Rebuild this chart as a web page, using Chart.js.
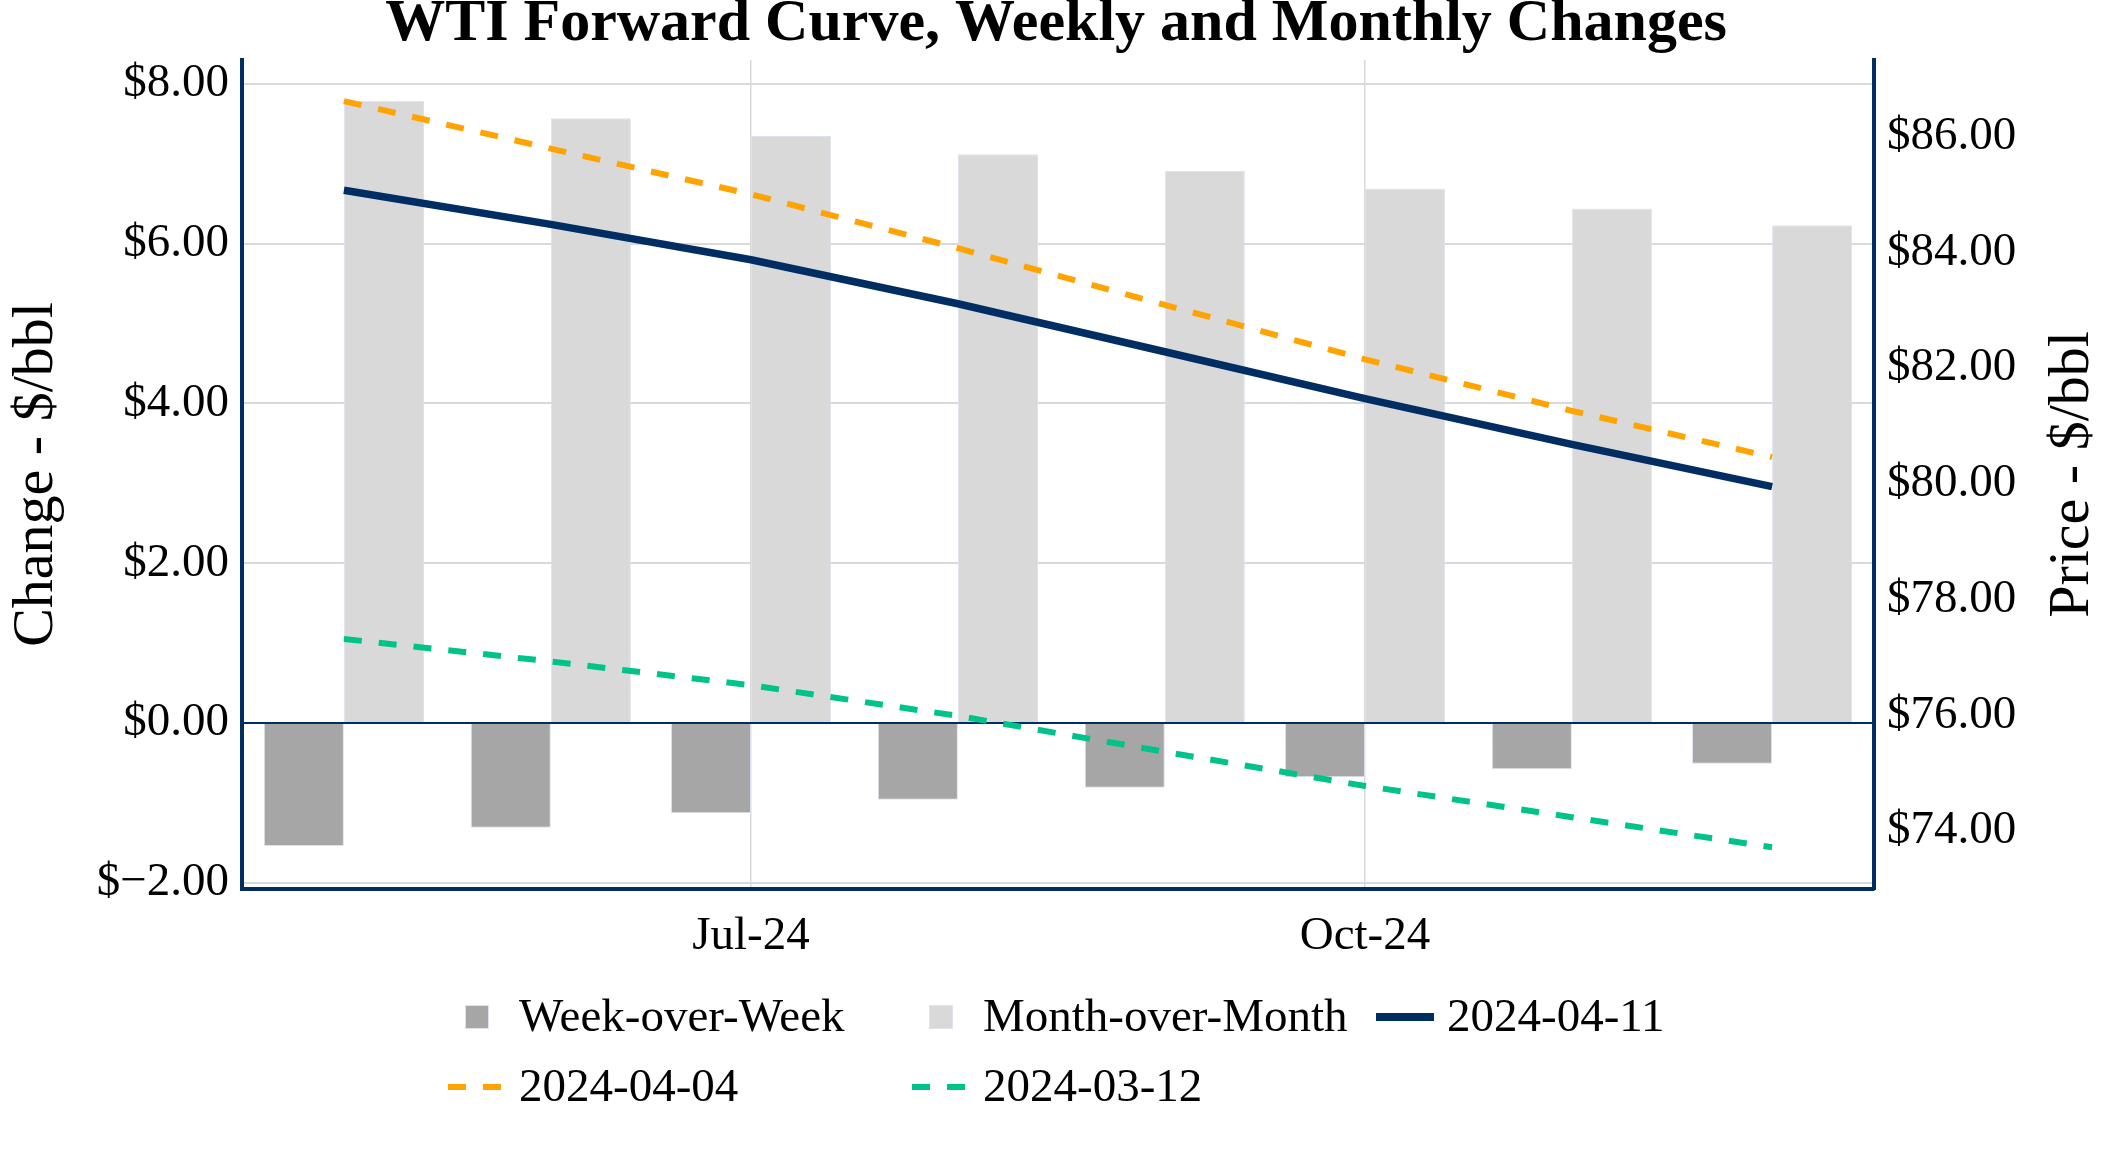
<!DOCTYPE html>
<html>
<head>
<meta charset="utf-8">
<title>WTI Forward Curve, Weekly and Monthly Changes</title>
<script src="https://cdn.jsdelivr.net/npm/chart.js@4.4.1/dist/chart.umd.min.js"></script>
<style>
    html, body { margin: 0; padding: 0; background: #fff; overflow: hidden; }
    canvas { display: block; }
</style>
</head>
<body>
<canvas id="wtiChart" width="2112" height="1152"></canvas>
<script>
const contractMonths = ['2024-05-01', '2024-06-01', '2024-07-01', '2024-08-01', '2024-09-01', '2024-10-01', '2024-11-01', '2024-12-01'];
const weekOverWeek = [-1.54, -1.31, -1.13, -0.96, -0.81, -0.68, -0.58, -0.51];
const monthOverMonth = [7.79, 7.57, 7.35, 7.12, 6.91, 6.69, 6.44, 6.23];
const curve20240411 = [85.07, 84.48, 83.87, 83.11, 82.28, 81.47, 80.68, 79.95];
const curve20240404 = [86.61, 85.79, 85.00, 84.07, 83.09, 82.15, 81.26, 80.46];
const curve20240312 = [77.32, 76.93, 76.52, 75.99, 75.37, 74.78, 74.24, 73.72];
const xTickDates = ['2024-07-01', '2024-10-01'];
const xTickLabels = ['Jul-24', 'Oct-24'];
const changeTicks = [-2, 0, 2, 4, 6, 8];
const priceTicks = [74, 76, 78, 80, 82, 84, 86];

const NAVY = '#002D62';
const SERIF = '"Liberation Serif", "Times New Roman", serif';

function toDay(s) {
    return Date.parse(s) / 86400000;
}

function money(v) {
    const s = Math.abs(v).toFixed(2);
    return v < 0 ? '$\u2212' + s : '$' + s;
}

function points(values) {
    return contractMonths.map((m, i) => ({ x: toDay(m), y: values[i] }));
}

const firstDay = toDay(contractMonths[0]);
const lastDay = toDay(contractMonths[contractMonths.length - 1]);

// legend laid out in columns, like the original
const gridLegend = {
    id: 'gridLegend',
    afterDraw(chart) {
        const ctx = chart.ctx;
        const rows = [1017, 1087];
        ctx.save();
        ctx.font = '47px ' + SERIF;
        ctx.textBaseline = 'middle';
        chart.data.datasets.forEach((ds, i) => {
            const x = 448 + (i % 3) * 464;
            const y = rows[Math.floor(i / 3)];
            if (ds.type === 'bar') {
                ctx.fillStyle = ds.backgroundColor;
                ctx.fillRect(x + 17, y - 12, 24, 24);
                ctx.strokeStyle = ds.borderColor;
                ctx.lineWidth = 1;
                ctx.strokeRect(x + 17.5, y - 11.5, 23, 23);
            } else {
                ctx.strokeStyle = ds.borderColor;
                ctx.lineWidth = ds.borderDash ? 6 : 8;
                ctx.setLineDash(ds.borderDash || []);
                ctx.beginPath();
                ctx.moveTo(x, y);
                ctx.lineTo(x + 58, y);
                ctx.stroke();
                ctx.setLineDash([]);
            }
            ctx.fillStyle = '#000';
            ctx.fillText(ds.label, x + 71, y + 2);
        });
        ctx.restore();
    }
};

// right axis title reads bottom to top
const rightTitle = {
    id: 'rightTitle',
    afterDraw(chart) {
        const ctx = chart.ctx;
        const area = chart.chartArea;
        ctx.save();
        ctx.translate(2073, (area.top + area.bottom) / 2);
        ctx.rotate(-Math.PI / 2);
        ctx.font = '58px ' + SERIF;
        ctx.fillStyle = '#000';
        ctx.textAlign = 'center';
        ctx.textBaseline = 'middle';
        ctx.fillText('Price - $/bbl', 0, 0);
        ctx.restore();
    }
};

const ctx = document.getElementById('wtiChart').getContext('2d');

new Chart(ctx, {
    type: 'bar',
    data: {
        datasets: [
            {
                type: 'bar',
                label: 'Week-over-Week',
                data: points(weekOverWeek),
                backgroundColor: '#A6A6A6',
                borderColor: '#DDE3EC',
                borderWidth: 1,
                yAxisID: 'y',
                order: 1,
                categoryPercentage: 0.8,
                barPercentage: 1.0,
            },
            {
                type: 'bar',
                label: 'Month-over-Month',
                data: points(monthOverMonth),
                backgroundColor: '#D9D9D9',
                borderColor: '#DDE3EC',
                borderWidth: 1,
                yAxisID: 'y',
                order: 1,
                categoryPercentage: 0.8,
                barPercentage: 1.0,
            },
            {
                type: 'line',
                label: '2024-04-11',
                data: points(curve20240411),
                borderColor: NAVY,
                borderWidth: 7.5,
                pointRadius: 0,
                tension: 0,
                fill: false,
                yAxisID: 'y1',
                order: 0,
            },
            {
                type: 'line',
                label: '2024-04-04',
                data: points(curve20240404),
                borderColor: '#FFA300',
                borderWidth: 6,
                borderDash: [18, 17],
                pointRadius: 0,
                tension: 0,
                fill: false,
                yAxisID: 'y1',
                order: 0,
            },
            {
                type: 'line',
                label: '2024-03-12',
                data: points(curve20240312),
                borderColor: '#00C389',
                borderWidth: 6,
                borderDash: [18, 17],
                pointRadius: 0,
                tension: 0,
                fill: false,
                yAxisID: 'y1',
                order: 0,
            },
        ],
    },
    options: {
        responsive: false,
        animation: false,
        layout: { padding: 0 },
        plugins: {
            legend: { display: false },
            tooltip: { enabled: false },
            title: {
                display: true,
                text: 'WTI Forward Curve, Weekly and Monthly Changes',
                color: '#000',
                font: { family: SERIF, size: 60, weight: 'bold', lineHeight: 0.75 },
                padding: { top: 2, bottom: 13 },
            },
        },
        scales: {
            x: {
                type: 'linear',
                offset: false,
                min: firstDay - 15.27,
                max: lastDay + 15.27,
                afterBuildTicks: (scale) => {
                    scale.ticks = xTickDates.map(d => ({ value: toDay(d) }));
                },
                afterFit: (scale) => { scale.height = 263; },
                ticks: {
                    callback: (value, index) => xTickLabels[index],
                    color: '#000',
                    font: { family: SERIF, size: 47 },
                    padding: 19,
                    autoSkip: false,
                    maxRotation: 0,
                },
                grid: { offset: false, color: '#D9D9D9', lineWidth: 1.5, drawTicks: false },
                border: { display: true, color: NAVY, width: 4 },
            },
            y: {
                position: 'left',
                min: -2.078,
                max: 8.30,
                afterBuildTicks: (scale) => {
                    scale.ticks = changeTicks.map(v => ({ value: v }));
                },
                afterFit: (scale) => { scale.width = 242; },
                ticks: {
                    callback: (value) => money(value),
                    color: '#000',
                    font: { family: SERIF, size: 47 },
                    padding: 13,
                },
                title: {
                    display: true,
                    text: 'Change - $/bbl',
                    color: '#000',
                    font: { family: SERIF, size: 58 },
                    padding: { top: 2, bottom: 0 },
                },
                grid: {
                    color: (c) => (c.tick && c.tick.value === 0 ? NAVY : '#D9D9D9'),
                    lineWidth: (c) => (c.tick && c.tick.value === 0 ? 2 : 2),
                    drawTicks: false,
                },
                border: { display: true, color: NAVY, width: 4 },
            },
            y1: {
                position: 'right',
                min: 73.0,
                max: 87.32,
                afterBuildTicks: (scale) => {
                    scale.ticks = priceTicks.map(v => ({ value: v }));
                },
                afterFit: (scale) => { scale.width = 238; },
                ticks: {
                    callback: (value) => money(value),
                    color: '#000',
                    font: { family: SERIF, size: 47 },
                    padding: 13,
                },
                grid: { display: false, drawTicks: false },
                border: { display: true, color: NAVY, width: 4 },
            },
        },
    },
    plugins: [gridLegend, rightTitle],
});
</script>
</body>
</html>
